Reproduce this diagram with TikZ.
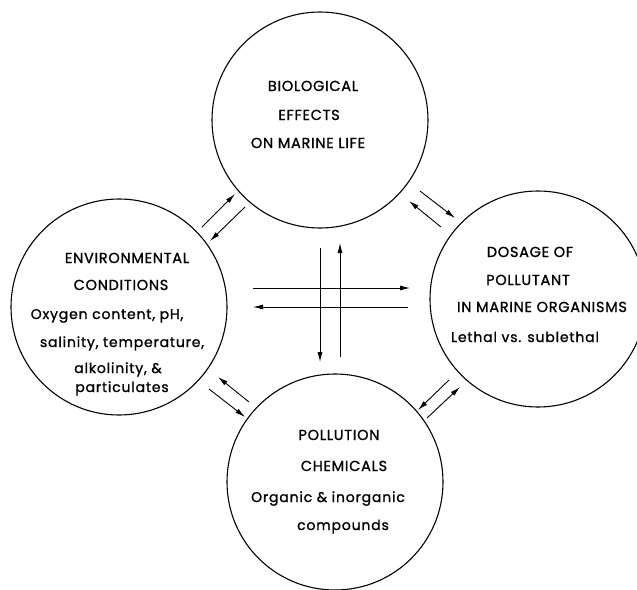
\documentclass[tikz,border=0pt]{standalone}
\usepackage{fontspec}
\setmainfont{Poppins}
\newfontfamily\lettering[FakeBold=1.2]{Poppins}
\usetikzlibrary{arrows.meta}
\begin{document}
\begin{tikzpicture}[x=1pt,y=-1pt,
  bubble/.style={circle,draw,line width=1.1pt,minimum size=216pt,inner sep=0pt},
  lbl/.style={anchor=base,inner sep=0pt,font=\lettering\fontsize{14.5}{17}\selectfont\addfontfeatures{LetterSpace=5}},
  lbs/.style={anchor=base,inner sep=0pt,font=\lettering\fontsize{14}{16}\selectfont\addfontfeatures{LetterSpace=6}},
  flow/.style={line width=0.9pt,-{Latex[length=10pt,width=5pt]}}]
\useasboundingbox (0,0) rectangle (637,589);
\clip (0,0) rectangle (637,589);
% circles
\node[bubble] (bio) at (320,120) {};
\node[bubble] (env) at (119,307) {};
\node[bubble] (dos) at (538,299) {};
\node[bubble] (chem) at (335,482) {};
% texts
\node[lbl] (b1) at (313,91) {BIOLOGICAL};
\node[lbl] (b2) at (309,120) {EFFECTS};
\node[lbl] (b3) at (308,148) {ON MARINE LIFE};
\node[lbl] (e1) at (127,263) {ENVIRONMENTAL};
\node[lbl] (e2) at (121,290) {CONDITIONS};
\node[lbs] (e3) at (107,319) {Oxygen content, pH,};
\node[lbs] (e4) at (122,347) {salinity, temperature,};
\node[lbs] (e5) at (118,373) {alkolinity, \&};
\node[lbs] (e6) at (122,392) {particulates};
\node[lbl] (d1) at (530,257) {DOSAGE OF};
\node[lbl] (d2) at (528,285) {POLLUTANT};
\node[lbl] (d3) at (542,312) {IN MARINE ORGANISMS};
\node[lbs] (d4) at (525,342) {Lethal vs. sublethal};
\node[lbl] (c1) at (339,440) {POLLUTION};
\node[lbl] (c2) at (344,471) {CHEMICALS};
\node[lbs] (c3) at (328,502) {Organic \& inorganic};
\node[lbs] (c4) at (343,530) {compounds};
% arrow end points
\coordinate (a1s) at (202,227); \coordinate (a1e) at (235,194);
\coordinate (a2s) at (245,207); \coordinate (a2e) at (210,241);
\coordinate (a3s) at (420,191); \coordinate (a3e) at (455,218);
\coordinate (a4s) at (441,227); \coordinate (a4e) at (409,201);
\coordinate (a5s) at (249,402); \coordinate (a5e) at (218,377);
\coordinate (a6s) at (209,389); \coordinate (a6e) at (245,417);
\coordinate (a7s) at (449,380); \coordinate (a7e) at (418,410);
\coordinate (a8s) at (427,418); \coordinate (a8e) at (460,387);
\coordinate (h1s) at (253,288); \coordinate (h1e) at (410,288);
\coordinate (h2s) at (408,307); \coordinate (h2e) at (253,307);
\coordinate (v1s) at (320,248); \coordinate (v1e) at (320,362);
\coordinate (v2s) at (340,357); \coordinate (v2e) at (340,243);
% connectors
\draw[flow] (a1s) -- (a1e);
\draw[flow] (a2s) -- (a2e);
\draw[flow] (a3s) -- (a3e);
\draw[flow] (a4s) -- (a4e);
\draw[flow] (a5s) -- (a5e);
\draw[flow] (a6s) -- (a6e);
\draw[flow] (a7s) -- (a7e);
\draw[flow] (a8s) -- (a8e);
\draw[flow] (h1s) -- (h1e);
\draw[flow] (h2s) -- (h2e);
\draw[flow] (v1s) -- (v1e);
\draw[flow] (v2s) -- (v2e);
\end{tikzpicture}
\end{document}
